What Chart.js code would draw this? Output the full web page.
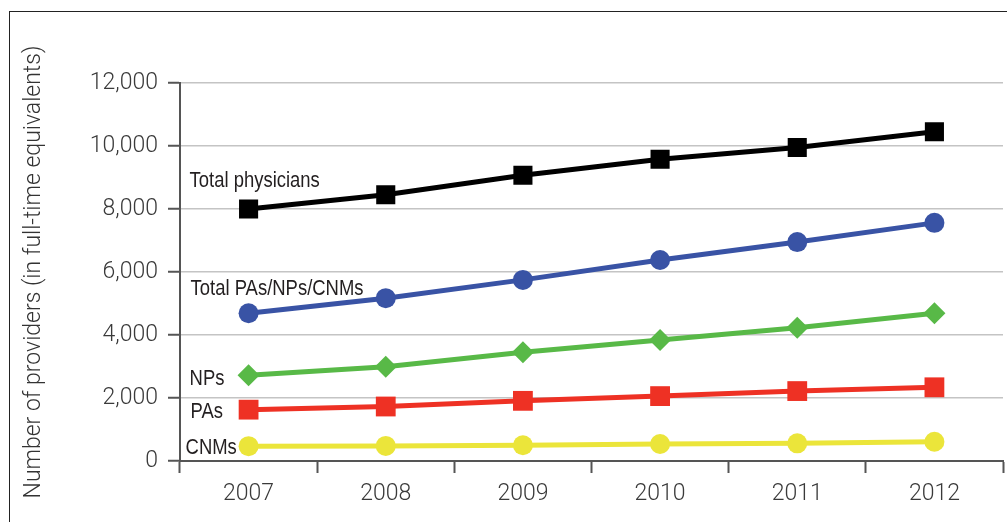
<!DOCTYPE html>
<html>
<head>
<meta charset="utf-8">
<script src="https://cdn.jsdelivr.net/npm/chart.js@4.4.1/dist/chart.umd.min.js"></script>
<style>
  html, body { margin: 0; padding: 0; background: #ffffff; }
  #wrap { position: relative; width: 1007px; height: 522px; overflow: hidden; }
  #frame { position: absolute; left: 9px; top: 11px; width: 1100px; height: 600px; border-left: 1.5px solid #222; border-top: 1.5px solid #222; }
  #c { position: absolute; left: 0; top: 0; }
</style>
</head>
<body>
<div id="wrap">
  <div id="frame"></div>
  <canvas id="c" width="1007" height="522"></canvas>
</div>
<script>
// ---- data ----
const years = ['2007', '2008', '2009', '2010', '2011', '2012'];
const seriesNames = ['Total physicians', 'Total PAs/NPs/CNMs', 'NPs', 'PAs', 'CNMs'];
const physicians = [8000, 8450, 9070, 9580, 9950, 10450];
const totalPasNpsCnms = [4690, 5170, 5750, 6380, 6950, 7560];
const nps = [2720, 2990, 3450, 3840, 4230, 4690];
const pas = [1630, 1730, 1910, 2060, 2220, 2340];
const cnms = [470, 480, 500, 540, 560, 610];
const yTicks = [0, 2000, 4000, 6000, 8000, 10000, 12000];
const yTitle = 'Number of providers (in full-time equivalents)';

// ---- styles ----
const colors = ['#000000', '#3953a5', '#58b947', '#ee3124', '#ebe53a'];
const pointStyles = ['rect', 'circle', 'rectRot', 'rect', 'circle'];
const pointRadii = [13.5, 10, 11, 14, 10];
// label offsets relative to first point (left x, baseline y)
const labelOffsets = [[-59, -22], [-58, -18], [-59, 10], [-58, 8], [-63, 8]];

const seriesValues = [physicians, totalPasNpsCnms, nps, pas, cnms];

const datasets = seriesValues.map((vals, i) => ({
  label: seriesNames[i],
  data: vals,
  borderColor: colors[i],
  backgroundColor: colors[i],
  pointBackgroundColor: colors[i],
  pointBorderColor: colors[i],
  pointBorderWidth: 0,
  borderWidth: 5,
  pointStyle: pointStyles[i],
  pointRadius: pointRadii[i],
  pointHoverRadius: pointRadii[i],
  tension: 0,
  labelOffset: labelOffsets[i]
}));

const seriesLabelPlugin = {
  id: 'seriesLabels',
  afterDatasetsDraw(chart) {
    const ctx = chart.ctx;
    const squeeze = 0.82;
    chart.data.datasets.forEach((ds, i) => {
      const meta = chart.getDatasetMeta(i);
      const p = meta.data[0];
      const off = ds.labelOffset;
      ctx.save();
      ctx.font = '22.5px "Liberation Sans", Arial, sans-serif';
      ctx.fillStyle = '#231f20';
      ctx.textAlign = 'left';
      ctx.textBaseline = 'alphabetic';
      ctx.translate(p.x + off[0], p.y + off[1]);
      ctx.scale(squeeze, 1);
      ctx.fillText(ds.label, 0, 0);
      ctx.restore();
    });
  }
};

const tickFont = { family: 'Roboto, "Open Sans", sans-serif', size: 23, weight: 300 };

new Chart(document.getElementById('c'), {
  type: 'line',
  data: { labels: years, datasets },
  options: {
    responsive: false,
    animation: false,
    devicePixelRatio: 1,
    layout: { autoPadding: false, padding: { left: 10, top: 83, right: 4, bottom: 0 } },
    plugins: { legend: { display: false }, tooltip: { enabled: false } },
    scales: {
      x: {
        type: 'category',
        offset: true,
        grid: {
          offset: true,
          drawOnChartArea: false,
          drawTicks: true,
          tickLength: 12,
          tickColor: '#555555',
          tickWidth: 2,
          color: '#555555'
        },
        border: { display: true, color: '#555555', width: 2 },
        ticks: { color: '#3a3a3a', font: tickFont, padding: 7, maxRotation: 0 },
        afterFit(scale) { scale.height = 61; }
      },
      y: {
        min: 0,
        max: 12000,
        afterBuildTicks(scale) { scale.ticks = yTicks.map(v => ({ value: v })); },
        grid: {
          color: '#c4c4c4',
          lineWidth: 1.5,
          drawTicks: true,
          tickLength: 12,
          tickColor: '#555555',
          tickWidth: 2
        },
        border: { display: true, color: '#555555', width: 2 },
        ticks: {
          color: '#3a3a3a',
          font: tickFont,
          padding: 10,
          callback: (v) => Number(v).toLocaleString('en-US')
        },
        title: {
          display: true,
          text: yTitle,
          color: '#333333',
          font: { family: 'Roboto, "Open Sans", sans-serif', size: 23, weight: 300 },
          padding: { top: 10, bottom: 0 }
        },
        afterFit(scale) { scale.width = 170; }
      }
    }
  },
  plugins: [seriesLabelPlugin]
});
</script>
</body>
</html>
